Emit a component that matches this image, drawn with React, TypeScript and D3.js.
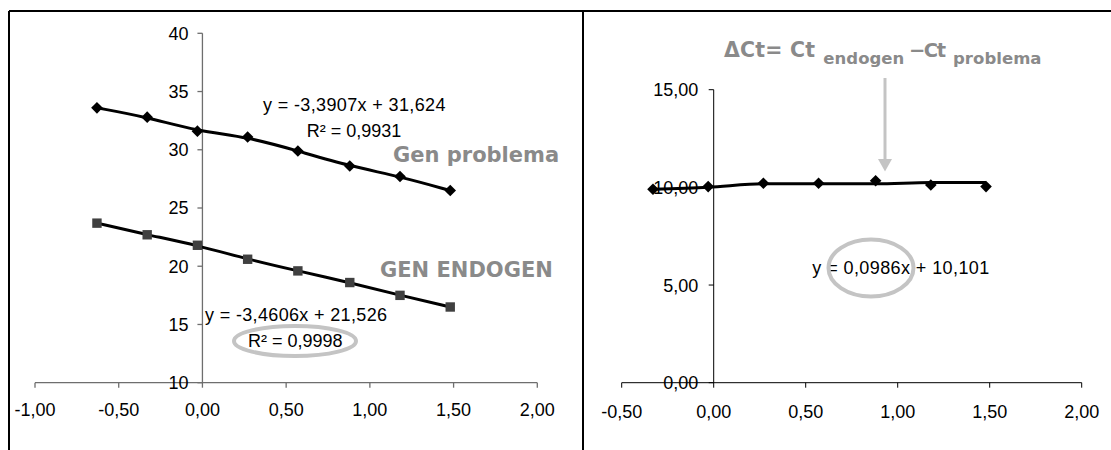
import React from "react";
import * as d3 from "d3";

// ---- data ----
const xLog = [-0.63, -0.33, -0.03, 0.27, 0.57, 0.88, 1.18, 1.48];
const genProblema = [33.6, 32.8, 31.6, 31.1, 29.9, 28.6, 27.7, 26.5];
const genEndogen = [23.7, 22.7, 21.8, 20.6, 19.6, 18.6, 17.5, 16.5];
const xDelta = [-0.33, -0.03, 0.27, 0.57, 0.88, 1.18, 1.48];
const deltaCt = [9.9, 10.04, 10.21, 10.21, 10.34, 10.12, 10.04];
const deltaCtLine = [9.9, 10.0, 10.18, 10.18, 10.18, 10.25, 10.25];
const leftXTicks = [-1, -0.5, 0, 0.5, 1, 1.5, 2];
const leftYTicks = [10, 15, 20, 25, 30, 35, 40];
const rightXTicks = [-0.5, 0, 0.5, 1, 1.5, 2];
const rightYTicks = [0, 5, 10, 15];

const fmt2 = (v: number) => d3.format(".2f")(v).replace(".", ",").replace("−", "-");
const fmt0 = (v: number) => d3.format("d")(v);

const FONT = "'Liberation Sans', Arial, sans-serif";
const BOLD = "'DejaVu Sans', Verdana, sans-serif";
const GRAY = "#8a8a8a";
const LIGHT = "#c4c4c4";

const diamond = (r: number) => `M0,${-r}L${r},0L0,${r}L${-r},0Z`;

export default function App() {
  // left scales
  const lx = d3.scaleLinear().domain([-1, 2]).range([35, 537.3]);
  const ly = d3.scaleLinear().domain([10, 40]).range([382.7, 33.3]);
  // right scales
  const rx = d3.scaleLinear().domain([-0.5, 2]).range([621.7, 1081.7]);
  const ry = d3.scaleLinear().domain([0, 15]).range([382.7, 89.7]);

  const lineL = d3
    .line<[number, number]>()
    .x((d) => lx(d[0]))
    .y((d) => ly(d[1]))
    .curve(d3.curveBasis);
  const lineR = d3
    .line<[number, number]>()
    .x((d) => rx(d[0]))
    .y((d) => ry(d[1]))
    .curve(d3.curveMonotoneX);

  const probPts: [number, number][] = xLog.map((x, i) => [x, genProblema[i]]);
  const endoPts: [number, number][] = xLog.map((x, i) => [x, genEndogen[i]]);
  const deltaPts: [number, number][] = xDelta.map((x, i) => [x, deltaCt[i]]);
  const deltaLinePts: [number, number][] = xDelta.map((x, i) => [x, deltaCtLine[i]]);

  const lAxis = "#6e6e6e";
  const rAxis = "#000";

  return (
    <svg
      width={1111}
      height={450}
      style={{ position: "absolute", left: 0, top: 0, background: "#fff" }}
    >
      <rect x={0} y={0} width={1111} height={450} fill="#fff" />
      {/* frame */}
      <line x1={9} y1={11} x2={1111} y2={11} stroke="#000" strokeWidth={2} />
      <line x1={9} y1={11} x2={9} y2={450} stroke="#000" strokeWidth={2} />
      <line x1={583} y1={11} x2={583} y2={450} stroke="#000" strokeWidth={2} />

      {/* ===== left chart ===== */}
      <g fontFamily={FONT} fontSize={18} fill="#000">
        {/* x axis */}
        <line x1={lx(-1)} x2={lx(2)} y1={ly(10)} y2={ly(10)} stroke={lAxis} strokeWidth={1.3} />
        {leftXTicks.map((t) => (
          <g key={"lx" + t}>
            <line x1={lx(t)} x2={lx(t)} y1={ly(10)} y2={ly(10) + 5} stroke={lAxis} strokeWidth={1.3} />
            <text x={lx(t)} y={415.5} textAnchor="middle">
              {fmt2(t)}
            </text>
          </g>
        ))}
        {/* y axis */}
        <line x1={lx(0)} x2={lx(0)} y1={ly(10)} y2={ly(40)} stroke={lAxis} strokeWidth={1.3} />
        {leftYTicks.map((t) => (
          <g key={"ly" + t}>
            <line x1={lx(0) - 5} x2={lx(0)} y1={ly(t)} y2={ly(t)} stroke={lAxis} strokeWidth={1.3} />
            <text x={188.5} y={ly(t)} dy="0.36em" textAnchor="end">
              {fmt0(t)}
            </text>
          </g>
        ))}
      </g>
      <path d={lineL(probPts) || ""} fill="none" stroke="#000" strokeWidth={3} />
      <path d={lineL(endoPts) || ""} fill="none" stroke="#000" strokeWidth={3} />
      {probPts.map((p, i) => (
        <path key={"pp" + i} d={diamond(5.8)} transform={`translate(${lx(p[0])},${ly(p[1])})`} fill="#000" />
      ))}
      {endoPts.map((p, i) => (
        <rect
          key={"ep" + i}
          x={lx(p[0]) - 4.7}
          y={ly(p[1]) - 4.7}
          width={9.4}
          height={9.4}
          fill="#404040"
        />
      ))}
      <g fontFamily={FONT} fontSize={18} fill="#000">
        <text x={263} y={111} textLength={182.5} lengthAdjust="spacing">y = -3,3907x + 31,624</text>
        <text x={306.7} y={136.7}>R² = 0,9931</text>
        <text x={205} y={321} textLength={182} lengthAdjust="spacing">y = -3,4606x + 21,526</text>
        <text x={248} y={347}>R² = 0,9998</text>
      </g>
      <g fontFamily={BOLD} fontWeight="bold" fill={GRAY} fontSize={21}>
        <text x={393} y={162.3}>Gen problema</text>
        <text x={380} y={277.3}>GEN ENDOGEN</text>
      </g>
      <ellipse cx={295} cy={341} rx={61} ry={15} fill="none" stroke={LIGHT} strokeWidth={4} />

      {/* ===== right chart ===== */}
      <g fontFamily={FONT} fontSize={18} fill="#000">
        <line x1={rx(-0.5)} x2={rx(2)} y1={ry(0)} y2={ry(0)} stroke={rAxis} strokeWidth={1} />
        {rightXTicks.map((t) => (
          <g key={"rx" + t}>
            <line x1={rx(t)} x2={rx(t)} y1={ry(0)} y2={ry(0) + 5} stroke={rAxis} strokeWidth={1} />
            <text x={rx(t)} y={418} textAnchor="middle">
              {fmt2(t)}
            </text>
          </g>
        ))}
        <line x1={rx(0)} x2={rx(0)} y1={ry(0)} y2={ry(15)} stroke={rAxis} strokeWidth={1} />
        {rightYTicks.map((t) => (
          <g key={"ry" + t}>
            <line x1={rx(0) - 5} x2={rx(0)} y1={ry(t)} y2={ry(t)} stroke={rAxis} strokeWidth={1} />
            <text x={698.3} y={ry(t)} dy="0.36em" textAnchor="end">
              {fmt2(t)}
            </text>
          </g>
        ))}
      </g>
      <path d={lineR(deltaLinePts) || ""} fill="none" stroke="#000" strokeWidth={3} />
      {deltaPts.map((p, i) => (
        <path key={"dp" + i} d={diamond(5.8)} transform={`translate(${rx(p[0])},${ry(p[1])})`} fill="#000" />
      ))}
      <text x={812.3} y={274} fontFamily={FONT} fontSize={18} fill="#000" textLength={177} lengthAdjust="spacing">
        y = 0,0986x + 10,101
      </text>
      <ellipse cx={871} cy={268} rx={42.5} ry={28.5} fill="none" stroke={LIGHT} strokeWidth={4} />

      {/* annotation */}
      <g fontFamily={BOLD} fontWeight="bold" fill={GRAY}>
        <text x={724} y={57} fontSize={20.5} textLength={91} lengthAdjust="spacing">ΔCt= Ct</text>
        <text x={823.3} y={63.5} fontSize={16.5} textLength={81} lengthAdjust="spacing">endogen</text>
        <text x={909} y={57} fontSize={19.5} textLength={37} lengthAdjust="spacing">−Ct</text>
        <text x={953} y={63.5} fontSize={16.5} textLength={88.5} lengthAdjust="spacing">problema</text>
      </g>
      <line x1={885} x2={885} y1={78} y2={160} stroke={LIGHT} strokeWidth={3} />
      <path d="M878,159L892,159L885,171.5Z" fill={LIGHT} />
    </svg>
  );
}
